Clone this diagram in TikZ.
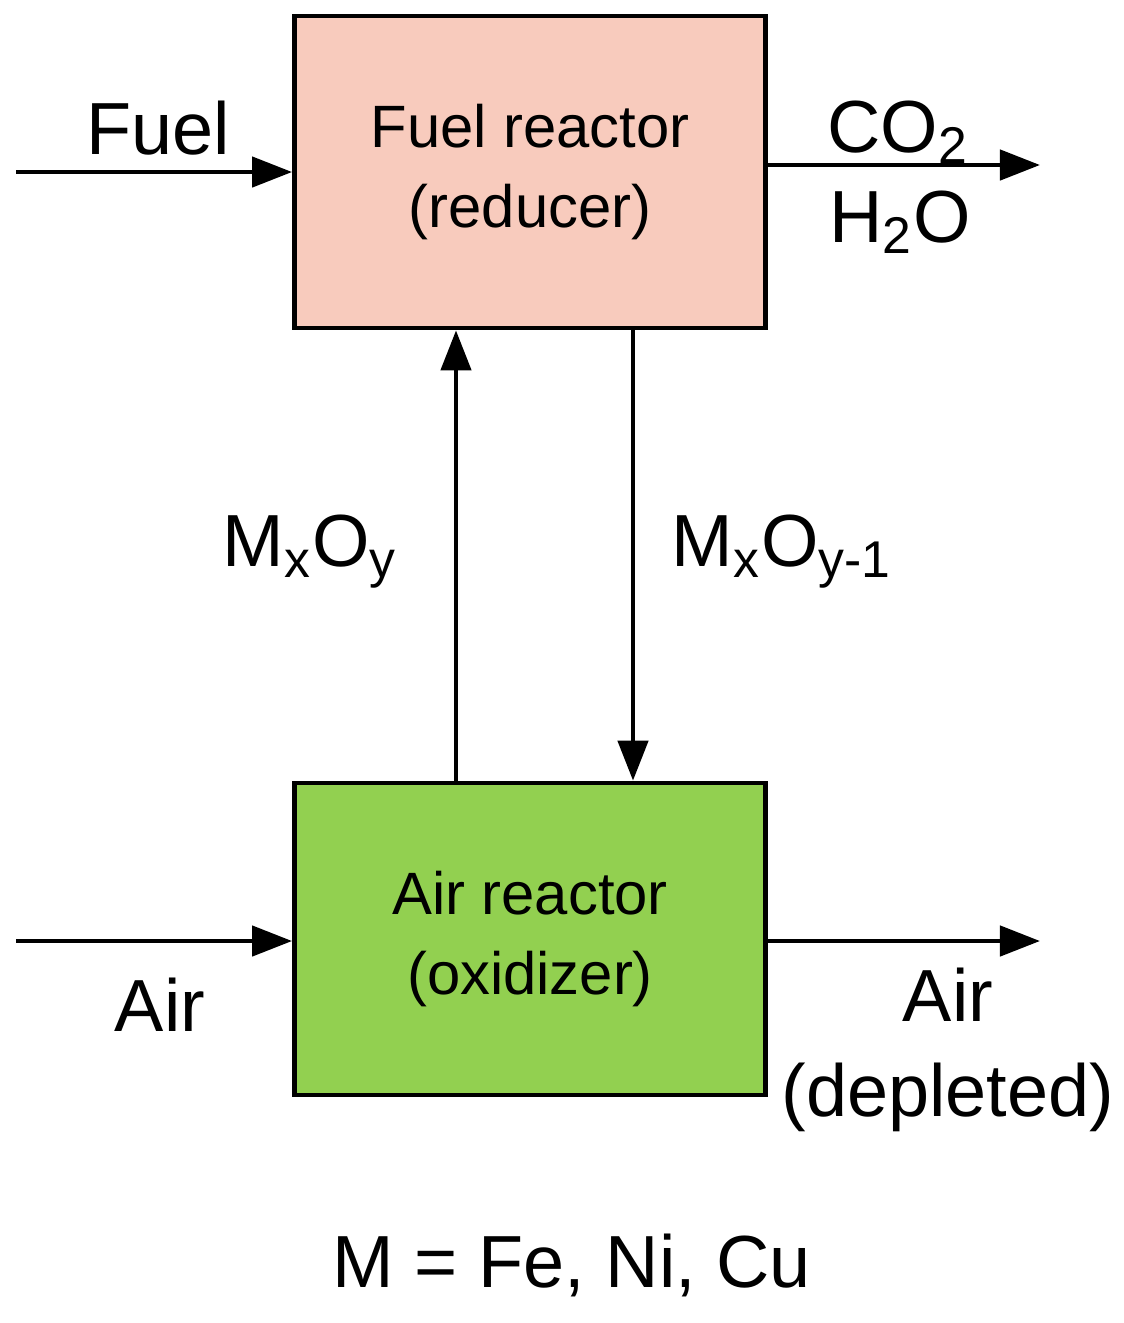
\documentclass[tikz,border=0pt]{standalone}
\usepackage{fontspec}
\setmainfont{Liberation Sans}
\usetikzlibrary{positioning, arrows.meta}
\definecolor{fuelcolor}{HTML}{F8CBBD}
\definecolor{aircolor}{HTML}{92D050}

\begin{document}
\begin{tikzpicture}[
      % GLOBAL CFG
      x=0.01cm, y=-0.01cm,
      font=\fontsize{17}{21}\selectfont,
      >={Triangle[length=4mm,width=3mm]},
      % Styles
      reactor/.style={% For reactors
        rectangle,
        draw,
        line width=1.3pt,
        minimum width=4.71cm,
        minimum height=3.12cm,
        align=center
      },
      lbl/.style={% For stream labels
        font=\fontsize{21}{27}\selectfont,
        align=center,
        inner sep=0pt
      },
      stream/.style={% Arrows for streams
        line width=1.3pt,
        ->,
      }
      ]
      \useasboundingbox (0,0) rectangle (1124,1323);

      % Reactors
      \node [reactor, fill=fuelcolor] (fuel) at (530,172) {Fuel reactor\\[2pt](reducer)};
      \node [reactor, fill=aircolor] (air) at (530,939) {Air reactor\\[2pt](oxidizer)};

      % Free ends
      \coordinate (fuelin) at (16,172);
      \coordinate (gasout) at (1040,165);
      \coordinate (airin) at (16,941);
      \coordinate (airout) at (1040,941);

      \draw [stream] (fuelin) -- (fuel.west);
      \draw [stream] (fuel.east |- gasout) -- (gasout);
      \draw [stream] (airin) -- (air.west |- airin);
      \draw [stream] (air.east |- airout) -- (airout);

      % Oxygen carrier loop
      \draw [stream] (air.north -| 456,0) -- (fuel.south -| 456,0);
      \draw [stream] (fuel.south -| 633,0) -- (air.north -| 633,0);

      % Labels
      \node [lbl] (fuellbl) at (158,128) {Fuel};
      \node [lbl] (co2) at (898,132) {CO\textsubscript{2}};
      \node [lbl] (h2o) at (900,222) {H\textsubscript{2}O};
      \node [lbl] (mxoy) at (310,552) {M\textsubscript{x}O\textsubscript{y}};
      \node [lbl] (mxoy1) at (782,552) {M\textsubscript{x}O\textsubscript{y-1}};
      \node [lbl] (airlbl) at (160,1005) {Air};
      \node [lbl] (depleted) at (948,1050) {Air\\(depleted)};
      \node [lbl] (metals) at (572,1265) {M = Fe, Ni, Cu};
\end{tikzpicture}
\end{document}
